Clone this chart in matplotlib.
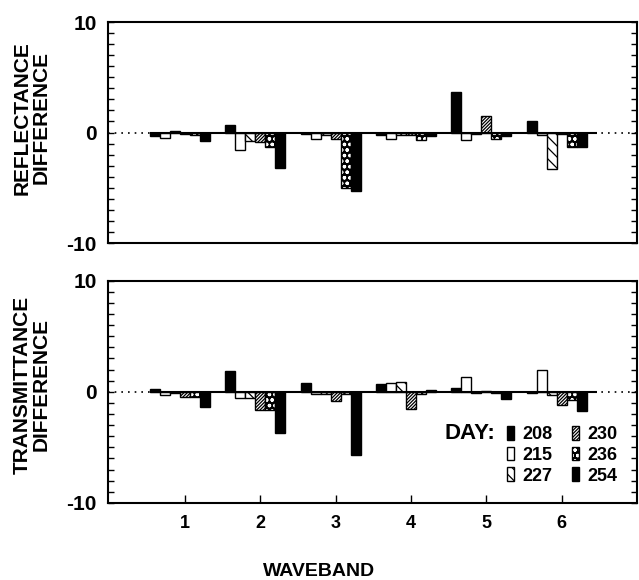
import numpy as np
import matplotlib
matplotlib.use('Agg')
import matplotlib.pyplot as plt
from matplotlib.ticker import MultipleLocator

plt.rcParams['font.family'] = ['Liberation Sans', 'DejaVu Sans']
plt.rcParams['font.weight'] = 'bold'
plt.rcParams['axes.unicode_minus'] = False
plt.rcParams['hatch.linewidth'] = 0.9

wavebands = [1, 2, 3, 4, 5, 6]
days = ['208', '215', '227', '230', '236', '254']

# reflectance difference per day (one value per waveband)
refl_208 = [-0.3, 0.7, -0.1, -0.2, 3.7, 1.0]
refl_215 = [-0.45, -1.6, -0.55, -0.6, -0.65, -0.2]
refl_227 = [0.1, -0.75, -0.25, -0.2, -0.1, -3.3]
refl_230 = [-0.1, -0.9, -0.55, -0.25, 1.5, -0.1]
refl_236 = [-0.2, -1.35, -5.0, -0.7, -0.55, -1.3]
refl_254 = [-0.8, -3.2, -5.3, -0.35, -0.3, -1.3]

# transmittance difference per day
trans_208 = [0.25, 1.9, 0.8, 0.7, 0.3, -0.1]
trans_215 = [-0.25, -0.6, -0.2, 0.8, 1.3, 2.0]
trans_227 = [-0.1, -0.55, -0.2, 0.85, -0.1, -0.3]
trans_230 = [-0.45, -1.6, -0.8, -1.55, 0.1, -1.2]
trans_236 = [-0.5, -1.6, -0.2, -0.2, -0.1, -0.7]
trans_254 = [-1.4, -3.7, -5.7, 0.15, -0.65, -1.7]

refl = [refl_208, refl_215, refl_227, refl_230, refl_236, refl_254]
trans = [trans_208, trans_215, trans_227, trans_230, trans_236, trans_254]

styles = [
    dict(color='black', edgecolor='black'),
    dict(color='white', edgecolor='black'),
    dict(color='white', edgecolor='black', hatch='\\\\\\'),
    dict(color='white', edgecolor='black', hatch='//////////'),
    None,  # 236: white dots on black, drawn apart
    dict(color='black', edgecolor='black'),
]

x = np.array(wavebands)
w = 0.133


def draw_panel(ax, series):
    handles = []
    for i, vals in enumerate(series):
        pos = x + (i - 3) * w
        if i == 4:
            b1 = ax.bar(pos, vals, w, color='black', edgecolor='white', hatch='ooo', linewidth=0)
            b2 = ax.bar(pos, vals, w, fill=False, edgecolor='black', linewidth=1)
            handles.append((b1, b2))
        else:
            handles.append(ax.bar(pos, vals, w, linewidth=1, **styles[i]))
    ax.axhline(0, color='black', lw=1.2, ls=(0, (1, 3)), zorder=1)
    ax.hlines(0, x[0] - 3.5 * w, x[-1] + 3.5 * w, color='black', lw=1.5, zorder=3)
    ax.set_xlim(-0.02, 7)
    ax.set_ylim(-10, 10)
    ax.set_yticks([-10, 0, 10])
    ax.yaxis.set_minor_locator(MultipleLocator(1))
    ax.tick_params(axis='y', which='both', direction='in', length=4, width=1,
                   left=True, right=True, labelsize=15, pad=8)
    for s in ax.spines.values():
        s.set_linewidth(1.5)
    return handles


fig = plt.figure(figsize=(6.39, 5.80), dpi=100)
ax1 = fig.add_axes([0.169, 0.581, 0.828, 0.381])
ax2 = fig.add_axes([0.169, 0.133, 0.828, 0.383])

draw_panel(ax1, refl)
handles = draw_panel(ax2, trans)

ax1.set_xticks([])
ax2.set_xticks(wavebands)
ax2.tick_params(axis='x', direction='in', length=6, width=1, labelsize=13, pad=9)

ax1.set_ylabel('REFLECTANCE\nDIFFERENCE', fontsize=15, fontweight='bold', linespacing=1.0)
ax1.yaxis.set_label_coords(-0.108, 0.566)
ax2.set_ylabel('TRANSMITTANCE\nDIFFERENCE', fontsize=15, fontweight='bold', linespacing=1.0)
ax2.yaxis.set_label_coords(-0.108, 0.532)

ax2.legend(handles, days, ncol=2, loc='upper left', bbox_to_anchor=(0.754, 0.347),
           frameon=False, fontsize=13, handlelength=0.4, handleheight=0.8,
           handletextpad=0.45, columnspacing=1.1, labelspacing=0.2,
           borderpad=0, borderaxespad=0)
ax2.text(0.732, 0.311, 'DAY:', transform=ax2.transAxes, ha='right', va='center',
         fontsize=16, fontweight='bold')

fig.text(0.5, 1 - 571 / 580, 'WAVEBAND', ha='center', va='center', fontsize=14, fontweight='bold')

fig.savefig('out.png', dpi=100)
